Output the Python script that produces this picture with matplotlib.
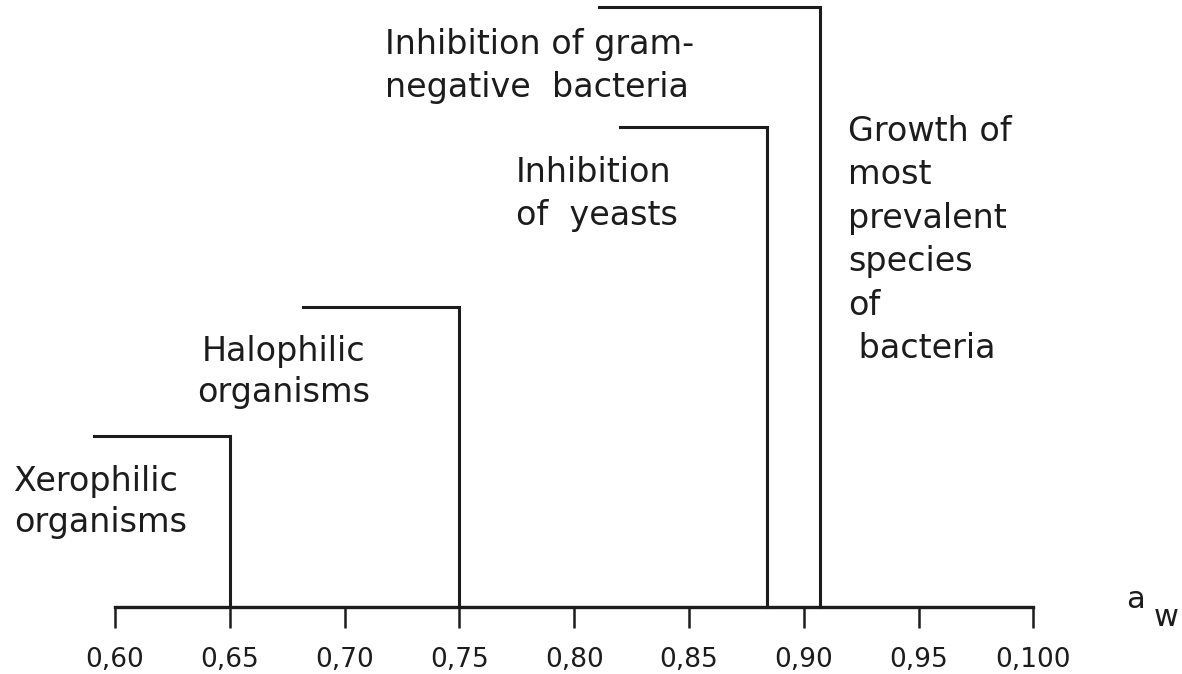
import matplotlib.pyplot as plt

# water activity thresholds (a_w) and step heights (arbitrary units)
groups = ["Xerophilic\norganisms", "Halophilic\norganisms",
          "Inhibition\nof  yeasts", "Inhibition of gram-\nnegative  bacteria"]
aw_limit = [0.65, 0.75, 0.884, 0.907]
aw_start = [0.591, 0.682, 0.820, 0.811]
height = [171, 300, 480, 600]

ticks = [0.60, 0.65, 0.70, 0.75, 0.80, 0.85, 0.90, 0.95, 1.00]
tick_labels = ["0,60", "0,65", "0,70", "0,75", "0,80", "0,85", "0,90", "0,95", "0,100"]

growth_text = "Growth of\nmost\nprevalent\nspecies\nof\n bacteria"

plt.rcParams["font.family"] = ["DejaVu Sans"]

fig = plt.figure(figsize=(11.82, 6.74), dpi=100)
ax = fig.add_axes([0, 0, 1, 1])
ax.set_xlim(0.5499, 1.0647)
ax.set_ylim(-67, 607)

ink = "#1c1c1c"
for x0, x1, h in zip(aw_start, aw_limit, height):
    ax.plot([x0, x1, x1], [h, h, 0], color=ink, lw=2.2, solid_joinstyle="miter")

# group labels
txt = dict(fontsize=24, color=ink, va="center")
ax.text(0.556, 105, groups[0], ha="left", linespacing=1.3, **txt)
ax.text(0.6736, 235, groups[1], ha="center", multialignment="center",
        linespacing=1.3, **txt)
ax.text(0.7747, 413, groups[2], ha="left", linespacing=1.4, **txt)
ax.text(0.7176, 541, groups[3], ha="left", linespacing=1.37, **txt)
ax.text(0.9193, 367, growth_text, ha="left", linespacing=1.4, **txt)

# axis
for side in ["top", "left", "right"]:
    ax.spines[side].set_visible(False)
ax.spines["bottom"].set_position(("data", 0))
ax.spines["bottom"].set_bounds(0.60, 1.00)
ax.spines["bottom"].set_linewidth(2.4)
ax.spines["bottom"].set_color(ink)
ax.set_yticks([])
ax.set_xticks(ticks)
ax.set_xticklabels(tick_labels, fontsize=19, color=ink)
ax.tick_params(axis="x", direction="out", length=15, width=1.8, pad=14, color=ink)

ax.text(1.0443, 7, "a", fontsize=22, color=ink, ha="center", va="center")
ax.text(1.0578, -10, "w", fontsize=22, color=ink, ha="center", va="center")

fig.savefig("out.png", dpi=100)
